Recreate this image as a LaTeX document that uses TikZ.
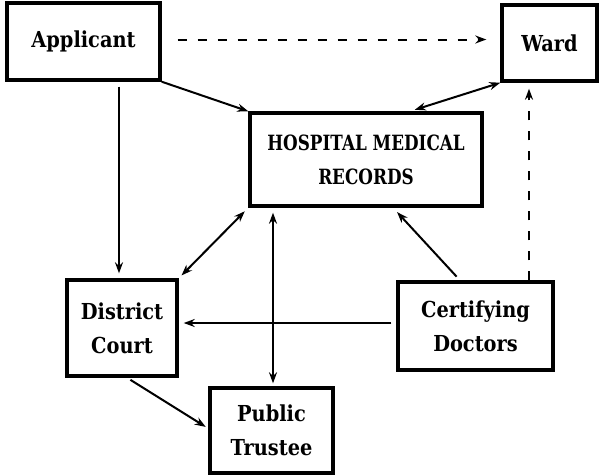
\documentclass[tikz,border=0pt]{standalone}
\usepackage{fontspec}
\setmainfont{DejaVu Serif}[FakeStretch=0.88]
\newfontfamily\narrowserif{DejaVu Serif}[FakeStretch=0.8]
\usetikzlibrary{arrows.meta,calc}
\begin{document}
\begin{tikzpicture}[x=1pt,y=-1pt,
  box/.style={draw,line width=3.4pt,align=center,inner sep=0pt,
    font=\bfseries\fontsize{22}{34}\selectfont},
  conn/.style={line width=2pt,-{Stealth[length=11pt,width=8pt]}},
  biconn/.style={line width=2pt,{Stealth[length=11pt,width=8pt]}-{Stealth[length=11pt,width=8pt]}},
  dashconn/.style={conn,dash pattern=on 9pt off 11pt}
]
\useasboundingbox (0,0) rectangle (599,475);

\node[box,minimum width=153pt,minimum height=77pt] (app) at (83.5,41.5) {Applicant};
\node[box,minimum width=95pt,minimum height=76pt] (ward) at (549.5,43) {Ward};
\node[box,minimum width=232pt,minimum height=93pt,font=\narrowserif\bfseries\fontsize{21}{34}\selectfont] (hosp) at (366,159.5) {HOSPITAL MEDICAL\\RECORDS};
\node[box,minimum width=110pt,minimum height=96pt] (dc) at (122,328) {District\\Court};
\node[box,minimum width=123pt,minimum height=85pt] (pt) at (271.5,430.5) {Public\\Trustee};
\node[box,minimum width=155pt,minimum height=88pt] (cd) at (475.5,326) {Certifying\\Doctors};

% Applicant -> Ward (dashed)
\draw[dashconn,shorten <=16pt,shorten >=14pt] ([yshift=2pt]app.east) -- ([yshift=2pt]app.east -| ward.west);
% Applicant -> Hospital
\draw[conn] (app.south east) -- (hosp.north west);
% Applicant -> District Court
\draw[conn,shorten <=5pt,shorten >=5pt] ([xshift=35.5pt]app.south) -- ([xshift=35.5pt]app.south |- dc.north);
% Ward <-> Hospital
\draw[biconn,shorten >=5pt] (ward.south west) -- ([xshift=44pt]hosp.north);
% Certifying Doctors -> Ward (dashed)
\draw[dashconn,shorten >=6pt] ([xshift=53.5pt]cd.north) -- ([xshift=53.5pt]cd.north |- ward.south);
% Hospital <-> District Court
\draw[biconn,shorten <=5pt,shorten >=4pt] (hosp.south west) -- (dc.north east);
% Hospital <-> Public Trustee
\draw[biconn,shorten <=5pt,shorten >=3pt] ([xshift=-93pt]hosp.south) -- ([xshift=-93pt]hosp.south |- pt.north);
% Certifying Doctors -> Hospital
\draw[conn,shorten <=5pt,shorten >=6pt] ([xshift=-15.5pt]cd.north) -- ([xshift=27pt]hosp.south);
% Certifying Doctors -> District Court
\draw[conn,shorten <=5pt,shorten >=5pt] ([yshift=3pt]cd.west) -- ([yshift=3pt]cd.west -| dc.east);
% District Court -> Public Trustee
\draw[conn,shorten <=4pt,shorten >=3pt] ([xshift=5pt]dc.south) -- ([yshift=2pt]pt.west);
\end{tikzpicture}
\end{document}
